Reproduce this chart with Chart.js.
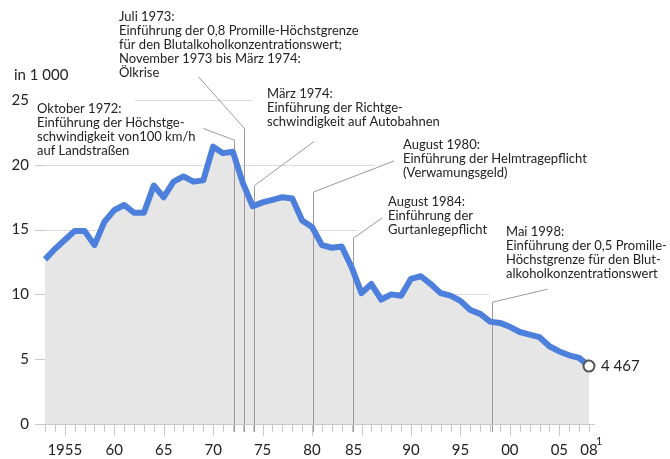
<!DOCTYPE html>
<html>
<head>
<meta charset="utf-8">
<script src="https://cdn.jsdelivr.net/npm/chart.js@4.4.1/dist/chart.umd.min.js"></script>
<style>
  html, body { margin: 0; padding: 0; background: #fff; }
  #wrap { width: 670px; height: 459px; }
</style>
</head>
<body>
<div id="wrap"><canvas id="chart" width="670" height="459"></canvas></div>
<script>
'use strict';

// Verkehrstote in Deutschland, in 1 000
const years = [1953, 1954, 1955, 1956, 1957, 1958, 1959, 1960, 1961, 1962, 1963, 1964, 1965, 1966,
    1967, 1968, 1969, 1970, 1971, 1972, 1973, 1974, 1975, 1976, 1977, 1978, 1979, 1980, 1981,
    1982, 1983, 1984, 1985, 1986, 1987, 1988, 1989, 1990, 1991, 1992, 1993, 1994, 1995, 1996,
    1997, 1998, 1999, 2000, 2001, 2002, 2003, 2004, 2005, 2006, 2007, 2008];
const deaths = [12.7, 13.5, 14.2, 14.9, 14.9, 13.8, 15.6, 16.5, 16.9, 16.3, 16.3, 18.4, 17.5, 18.7,
    19.1, 18.7, 18.8, 21.4, 20.9, 21.0, 18.6, 16.8, 17.1, 17.3, 17.5, 17.4, 15.7, 15.2, 13.8,
    13.6, 13.7, 12.1, 10.1, 10.8, 9.6, 10.0, 9.9, 11.2, 11.4, 10.8, 10.1, 9.9, 9.5, 8.8,
    8.5, 7.9, 7.8, 7.5, 7.1, 6.9, 6.7, 6.0, 5.6, 5.3, 5.1, 4.467];

const yTicks = [0, 5, 10, 15, 20, 25];
const xTickYears = [1955, 1960, 1965, 1970, 1975, 1980, 1984.2, 1990, 1995, 2000, 2005, 2008];
const xTickLabels = ['1955', '60', '65', '70', '75', '80', '85', '90', '95', '00', '05', '08'];
const unitLabel = 'in 1 000';
const lastValueLabel = '4 467';
const footnote = '1';

// Annotations: event date (in years), leader elbow and end (year, value), text block
const events = [
    { at: 1972.1, elbow: 21.9, end: [1969.0, 22.8], text: [119, 109],
      lines: ['Oktober 1972:', 'Einführung der Höchstge-', 'schwindigkeit von100 km/h', 'auf Landstraßen'] },
    { at: 1973.1, elbow: 22.8, end: [1968.5, 26.8], text: [119, 17],
      lines: ['Juli 1973:', 'Einführung der 0,8 Promille-Höchstgrenze', 'für den Blutalkoholkonzentrationswert;',
              'November 1973 bis März 1974:', 'Ölkrise'] },
    { at: 1974.1, elbow: 18.4, end: [1980.2, 21.8], text: [267, 94],
      lines: ['März 1974:', 'Einführung der Richtge-', 'schwindigkeit auf Autobahnen'] },
    { at: 1980.1, elbow: 17.9, end: [1988.3, 20.3], text: [403, 145],
      lines: ['August 1980:', 'Einführung der Helmtragepflicht', '(Verwamungsgeld)'] },
    { at: 1984.15, elbow: 14.35, end: [1987.1, 15.9], text: [388, 202],
      lines: ['August 1984:', 'Einführung der', 'Gurtanlegepflicht'] },
    { at: 1998.2, elbow: 9.4, end: [2003.8, 10.4], text: [506, 232],
      lines: ['Mai 1998:', 'Einführung der 0,5 Promille-', 'Höchstgrenze für den Blut-', 'alkoholkonzentrationswert'] }
];
// the Oktober text block sits left, fix its x
events[0].text = [37, 109];

// visible stretch of each gridline (years)
const gridFrom = { 5: 1952, 10: 1952, 15: 1952, 20: 1952, 25: 1962.1 };
const gridTo = { 5: 2008, 10: 1997.9, 15: 1984.6, 20: 1986.4, 25: 1974.0 };

const FONT = 'Lato, "Open Sans", sans-serif';
const TEXT = '#222';

const decor = {
    id: 'decor',
    beforeDraw(chart) {
        const { ctx, scales: { x, y } } = chart;
        ctx.save();
        ctx.lineWidth = 1;
        ctx.strokeStyle = '#dadada';
        yTicks.forEach(v => {
            if (v === 0) return;
            const py = Math.round(y.getPixelForValue(v)) + 0.5;
            ctx.beginPath();
            ctx.moveTo(x.getPixelForValue(gridFrom[v]), py);
            ctx.lineTo(x.getPixelForValue(gridTo[v]), py);
            ctx.stroke();
        });
        ctx.restore();
    },
    beforeDatasetsDraw(chart) {
        const { ctx, scales: { x, y } } = chart;
        const base = y.getPixelForValue(0);
        ctx.save();
        ctx.lineWidth = 1;
        ctx.strokeStyle = '#999';
        events.forEach(ev => {
            const ex = Math.round(x.getPixelForValue(ev.at)) + 0.5;
            ctx.beginPath();
            ctx.moveTo(ex, base + 8);
            ctx.lineTo(ex, y.getPixelForValue(ev.elbow));
            ctx.lineTo(x.getPixelForValue(ev.end[0]), y.getPixelForValue(ev.end[1]));
            ctx.stroke();
        });
        // baseline and ticks
        ctx.strokeStyle = '#c8c8c8';
        ctx.beginPath();
        ctx.moveTo(35, Math.round(base) + 0.5);
        ctx.lineTo(x.getPixelForValue(2008) + 6, Math.round(base) + 0.5);
        ctx.stroke();
        years.forEach(yr => {
            const tx = Math.round(x.getPixelForValue(yr)) + 0.5;
            ctx.beginPath();
            ctx.moveTo(tx, base);
            ctx.lineTo(tx, base + (yr % 5 === 0 ? 12 : 8));
            ctx.stroke();
        });
        yTicks.forEach(v => {
            if (v === 0 || v === 25) return;
            const py = Math.round(y.getPixelForValue(v)) + 0.5;
            ctx.beginPath();
            ctx.moveTo(35, py);
            ctx.lineTo(x.left, py);
            ctx.stroke();
        });
        ctx.restore();
    },
    afterDraw(chart) {
        const { ctx, scales: { x, y } } = chart;
        ctx.save();
        ctx.fillStyle = TEXT;
        ctx.textBaseline = 'middle';

        // y labels
        ctx.font = '15px ' + FONT;
        ctx.textAlign = 'right';
        yTicks.forEach(v => ctx.fillText(String(v), 29, y.getPixelForValue(v)));
        ctx.textAlign = 'left';
        ctx.fillText(unitLabel, 14, 75);

        // x labels
        ctx.textAlign = 'center';
        xTickYears.forEach((yr, i) => ctx.fillText(xTickLabels[i], x.getPixelForValue(yr), 450));
        ctx.font = '11px ' + FONT;
        ctx.textAlign = 'left';
        ctx.fillText(footnote, x.getPixelForValue(2008) + 7, 441);

        // last value
        const last = deaths.length - 1;
        ctx.font = '15px ' + FONT;
        ctx.fillText(lastValueLabel, x.getPixelForValue(years[last]) + 12, y.getPixelForValue(deaths[last]));

        // annotation texts
        ctx.font = '13px ' + FONT;
        events.forEach(ev => {
            ev.lines.forEach((line, i) => ctx.fillText(line, ev.text[0], ev.text[1] + i * 14));
        });
        ctx.restore();
    }
};

new Chart(document.getElementById('chart'), {
    type: 'line',
    data: {
        datasets: [{
            data: years.map((yr, i) => ({ x: yr, y: deaths[i] })),
            borderColor: '#4d7fdc',
            borderWidth: 6,
            borderJoinStyle: 'round',
            backgroundColor: '#e6e6e6',
            fill: 'origin',
            tension: 0,
            clip: false,
            pointRadius: c => (c.dataIndex === years.length - 1 ? 5.5 : 0),
            pointBackgroundColor: '#fff',
            pointBorderColor: '#555',
            pointBorderWidth: 2
        }]
    },
    options: {
        responsive: false,
        animation: false,
        layout: { padding: { left: 45, right: 81, top: 100, bottom: 35 } },
        plugins: {
            legend: { display: false },
            tooltip: { enabled: false },
            filler: { drawTime: 'beforeDatasetsDraw' }
        },
        scales: {
            x: { type: 'linear', min: 1953, max: 2008, display: false },
            y: { min: 0, max: 25, display: false }
        }
    },
    plugins: [decor]
});
</script>
</body>
</html>
